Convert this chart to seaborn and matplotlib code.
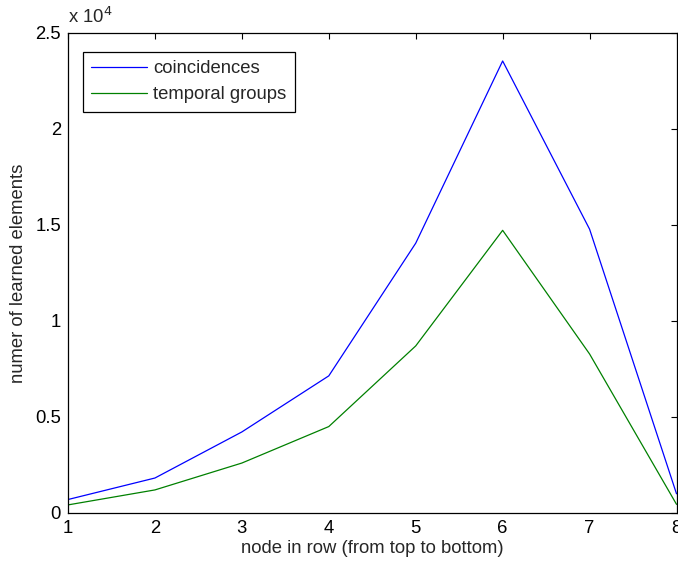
import matplotlib
matplotlib.use("Agg")
import matplotlib.pyplot as plt
import seaborn as sns
import pandas as pd
from matplotlib.ticker import FixedLocator, FuncFormatter

# Number of learned elements per node (rows ordered top to bottom)
nodes = [1, 2, 3, 4, 5, 6, 7, 8]
coincidences = [700, 1820, 4220, 7140, 14050, 23540, 14780, 1000]
temporal_groups = [420, 1200, 2600, 4500, 8700, 14720, 8280, 450]
series_names = ["coincidences", "temporal groups"]
series_colors = ["#0000ff", "#008000"]

y_ticks = [0, 5000, 10000, 15000, 20000, 25000]
y_tick_labels = ["0", "0.5", "1", "1.5", "2", "2.5"]

df = pd.DataFrame({
    "node": nodes * 2,
    "count": coincidences + temporal_groups,
    "series": [series_names[0]] * len(nodes) + [series_names[1]] * len(nodes),
})

sns.set_style("white")
plt.rcParams["font.family"] = ["Liberation Sans", "DejaVu Sans"]
FS = 13.3

fig = plt.figure(figsize=(6.78, 5.65), dpi=100)
ax = fig.add_axes([0.1003, 0.0921, 0.8975, 0.8496])

sns.lineplot(data=df, x="node", y="count", hue="series",
             palette=dict(zip(series_names, series_colors)),
             linewidth=0.9, ax=ax, legend=True)

ax.set_xlim(1, 8)
ax.set_ylim(0, 25000)
ax.xaxis.set_major_locator(FixedLocator(nodes))
ax.yaxis.set_major_locator(FixedLocator(y_ticks))
ax.yaxis.set_major_formatter(FuncFormatter(
    lambda v, pos: y_tick_labels[y_ticks.index(int(round(v)))] if int(round(v)) in y_ticks else ""))

ax.tick_params(direction="in", length=4.5, width=0.8, labelsize=FS,
               top=True, right=True, colors="black", pad=5)
for side in ax.spines.values():
    side.set_visible(True)
    side.set_color("black")
    side.set_linewidth(0.9)

ax.set_xlabel("node in row (from top to bottom)", fontsize=FS, labelpad=2)
ax.set_ylabel("numer of learned elements", fontsize=FS, labelpad=6)

ax.text(0.0, 1.012, r"x 10$^{4}$", transform=ax.transAxes, fontsize=FS,
        ha="left", va="bottom")

handles, labels = ax.get_legend_handles_labels()
leg = ax.legend(handles, labels, loc="upper left", bbox_to_anchor=(0.0247, 0.96),
                fontsize=FS, frameon=True, fancybox=False, edgecolor="black",
                framealpha=1, borderpad=0.45, handlelength=3.0, handletextpad=0.35,
                labelspacing=0.48, borderaxespad=0)
leg.get_frame().set_linewidth(0.9)

fig.savefig("out.png", dpi=100)
